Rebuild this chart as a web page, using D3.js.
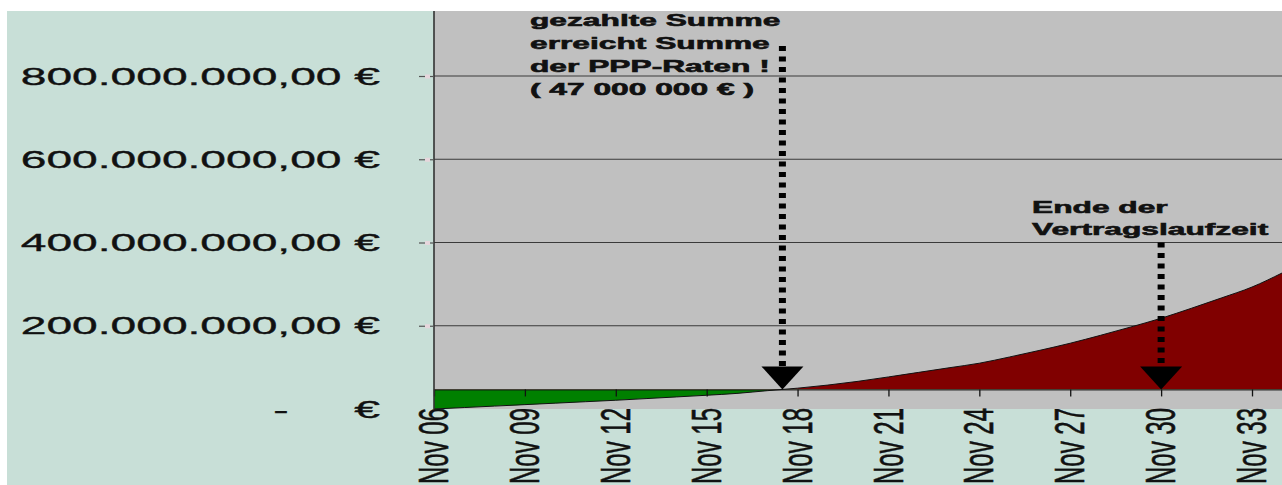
<!DOCTYPE html>
<html>
<head>
<meta charset="utf-8">
<script src="https://cdn.jsdelivr.net/npm/d3@7"></script>
<style>
  html, body { margin: 0; padding: 0; background: #ffffff; overflow: hidden; }
  svg { display: block; }
  text { font-family: Arial, "Liberation Sans", sans-serif; }
</style>
</head>
<body>
<svg id="chart" width="1282" height="485"></svg>
<script>
// Yearly cumulative amount (million €), each November
const years = [2006, 2007, 2008, 2009, 2010, 2011, 2012, 2013, 2014, 2015, 2016, 2017, 2018, 2019, 2020,
               2021, 2022, 2023, 2024, 2025, 2026, 2027, 2028, 2029, 2030, 2031, 2032, 2033, 2034];
const amountMio = [0, 3.5, 7, 10.5, 14, 17.5, 21, 25, 29, 33, 37.5, 44, 50, 57.5, 66.5,
                   77, 88, 99, 110, 125, 141, 158, 177, 197, 218, 242, 267, 293, 327];

// Sum of the PPP instalments (baseline of the chart)
const rateSum = 47000000;
const contractEndYear = 2030;

const yTickValues = [0, 200000000, 400000000, 600000000, 800000000];
const xTickYears = [2006, 2009, 2012, 2015, 2018, 2021, 2024, 2027, 2030, 2033];
const xTickLabels = ["Nov 06", "Nov 09", "Nov 12", "Nov 15", "Nov 18", "Nov 21", "Nov 24", "Nov 27", "Nov 30", "Nov 33"];

const noteRateSum = ["gezahlte Summe", "erreicht Summe", "der PPP-Raten !", "( 47 000 000 € )"];
const noteContractEnd = ["Ende der", "Vertragslaufzeit"];

// ---- layout ----
const W = 1282, H = 485;
const plot = { left: 434, right: 1282, top: 11, bottom: 409 };
const stretch = 1.9; // horizontal widening of all lettering

const svg = d3.select("#chart");

const x = d3.scaleLinear().domain([2006, 2034]).range([plot.left, 1282.3]);
const y = d3.scaleLinear().domain([0, 1000000000]).range([plot.bottom, plot.bottom - 416.25]);

const data = years.map((yr, i) => ({ year: yr, value: amountMio[i] * 1e6 }));

const de = d3.formatLocale({ decimal: ",", thousands: ".", grouping: [3], currency: ["", " €"] });
const fmt = de.format(",.2f");

// background
svg.append("rect").attr("x", 7).attr("y", 11).attr("width", W - 7).attr("height", H - 11).attr("fill", "#c8dfd7");
svg.append("rect").attr("x", plot.left).attr("y", plot.top)
  .attr("width", plot.right - plot.left).attr("height", plot.bottom - plot.top).attr("fill", "#c0c0c0");

// gridlines
const grid = svg.append("g");
yTickValues.filter(v => v > 0).forEach(v => {
  grid.append("line")
    .attr("x1", plot.left).attr("x2", plot.right)
    .attr("y1", y(v)).attr("y2", y(v))
    .attr("stroke", "#3a3a3a").attr("stroke-width", 1);
});

// area between curve and the instalment sum: green below, dark red above
const defs = svg.append("defs");
const yBase = y(rateSum);
defs.append("clipPath").attr("id", "above")
  .append("rect").attr("x", plot.left).attr("y", plot.top).attr("width", plot.right - plot.left).attr("height", yBase - plot.top);
defs.append("clipPath").attr("id", "below")
  .append("rect").attr("x", plot.left).attr("y", yBase).attr("width", plot.right - plot.left).attr("height", plot.bottom - yBase);

const area = d3.area().curve(d3.curveMonotoneX).x(d => x(d.year)).y0(yBase).y1(d => y(d.value));
const line = d3.line().curve(d3.curveMonotoneX).x(d => x(d.year)).y(d => y(d.value));

svg.append("path").datum(data).attr("d", area).attr("fill", "#008000").attr("clip-path", "url(#below)");
svg.append("path").datum(data).attr("d", area).attr("fill", "#800000").attr("clip-path", "url(#above)");
svg.append("path").datum(data).attr("d", line).attr("fill", "none").attr("stroke", "#111").attr("stroke-width", 1);

// category axis at the instalment sum
const xAxis = d3.axisBottom(x).tickValues(xTickYears).tickSize(7).tickSizeOuter(0).tickFormat("");
const gx = svg.append("g").attr("transform", `translate(0,${yBase})`).call(xAxis);
gx.select(".domain").attr("stroke", "#111").attr("stroke-width", 1);
gx.selectAll(".tick line").attr("stroke", "#111").attr("stroke-width", 1.3);

// x labels, rotated, below the plot area
const xl = svg.append("g").attr("fill", "#111").attr("stroke", "#111").attr("stroke-width", 0.35);
xTickYears.forEach((yr, i) => {
  xl.append("text")
    .attr("transform", `translate(${x(yr) - 1},408) scale(1.8,1) rotate(-90)`)
    .attr("text-anchor", "end").attr("dy", "0.35em")
    .attr("font-size", 24)
    .text(xTickLabels[i]);
});

// value axis
const yAxis = d3.axisLeft(y).tickValues(yTickValues.filter(v => v > 0)).tickSize(15).tickFormat("");
const gy = svg.append("g").attr("transform", `translate(${plot.left},0)`).call(yAxis);
gy.select(".domain").attr("stroke", "#333").attr("stroke-width", 1.6)
  .attr("d", `M0,${plot.top}V${plot.bottom}`);
gy.selectAll(".tick line").attr("stroke", "#555").attr("stroke-width", 1.2);
gy.selectAll(".tick").append("rect")
  .attr("x", -9).attr("y", -2).attr("width", 5).attr("height", 4).attr("fill", "#e6d6dc");

const yl = svg.append("g").attr("fill", "#111").attr("stroke", "#111").attr("stroke-width", 0.35);
yTickValues.forEach(v => {
  if (v === 0) {
    yl.append("text")
      .attr("transform", `translate(281,${y(v)}) scale(${stretch},1)`)
      .attr("text-anchor", "middle").attr("dy", "0.35em")
      .attr("font-size", 24.3).text("-");
    yl.append("text")
      .attr("transform", `translate(380,${y(v)}) scale(${stretch},1)`)
      .attr("text-anchor", "end").attr("dy", "0.35em")
      .attr("font-size", 24.3).text("€");
  } else {
    yl.append("text")
      .attr("transform", `translate(380,${y(v)}) scale(${stretch},1)`)
      .attr("text-anchor", "end").attr("dy", "0.35em")
      .attr("font-size", 24.3).text(fmt(v) + " €");
  }
});

// crossing of the curve with the instalment sum
let crossYear = years[0];
for (let i = 1; i < data.length; i++) {
  if (data[i - 1].value < rateSum && data[i].value >= rateSum) {
    const t = (rateSum - data[i - 1].value) / (data[i].value - data[i - 1].value);
    crossYear = data[i - 1].year + t;
    break;
  }
}

// dotted arrows
function arrow(xPos, yTop, yTip) {
  const g = svg.append("g");
  const head = 23;
  g.append("line")
    .attr("x1", xPos).attr("x2", xPos).attr("y1", yTop).attr("y2", yTip - head + 2)
    .attr("stroke", "#000").attr("stroke-width", 7).attr("stroke-dasharray", "5,5.5");
  g.append("path")
    .attr("d", `M${xPos - 21},${yTip - head}L${xPos + 21},${yTip - head}L${xPos},${yTip}Z`)
    .attr("fill", "#000");
}
arrow(x(crossYear), 46, yBase);
arrow(x(contractEndYear), y(400000000), yBase);

// annotations
const notes = svg.append("g").attr("font-weight", "bold")
  .attr("fill", "#111").attr("stroke", "#111").attr("stroke-width", 0.6);
noteRateSum.forEach((t, i) => {
  notes.append("text")
    .attr("transform", `translate(530,${26 + i * 23}) scale(${stretch},1)`)
    .attr("font-size", 16.7).text(t);
});
noteContractEnd.forEach((t, i) => {
  notes.append("text")
    .attr("transform", `translate(1032,${213 + i * 22}) scale(${stretch},1)`)
    .attr("font-size", 16.7).text(t);
});
</script>
</body>
</html>
